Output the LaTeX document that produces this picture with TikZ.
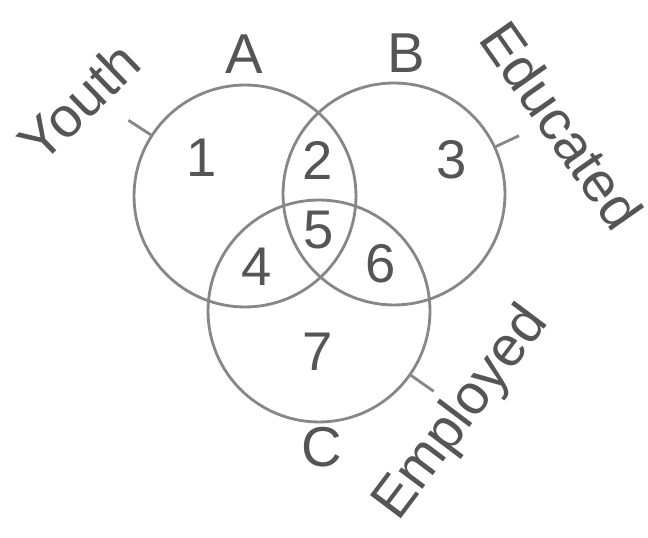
\documentclass[tikz,border=0pt]{standalone}
\usepackage{fontspec}
\setmainfont{Liberation Sans}
\usepackage{tikz}
\usetikzlibrary{calc}
\usepackage{xcolor}
\definecolor{linegray}{RGB}{135,135,135}
\definecolor{textgray}{RGB}{85,85,85}

\begin{document}
\begin{tikzpicture}[
    x=0.02cm, y=0.02cm,
    venn/.style={circle, draw=linegray, line width=1.6pt, minimum size=4.44cm, inner sep=0pt},
    ticklink/.style={draw=linegray, line width=1.6pt},
    setname/.style={font=\fontsize{32}{38}\selectfont, text=textgray, inner sep=0pt},
    region/.style={font=\fontsize{31}{37}\selectfont, text=textgray, inner sep=0pt}
]
\useasboundingbox (0,0) rectangle (648,537);
% circles
\node[venn] (A) at (245,341) {};
\node[venn] (B) at (394,343) {};
\node[venn] (C) at (319,226) {};
% set letters
\node[setname] (lA) at (244,483) {A};
\node[setname] (lB) at (406,484) {B};
\node[setname] (lC) at (322,90) {C};
% category names
\node[setname, rotate=44] (youth) at (79,435) {Youth};
\node[setname, rotate=-55] (educ) at (562,412) {Educated};
\node[setname, rotate=53] (empl) at (462,123) {Employed};
% tick ends
\coordinate (tA) at ($(A.center)+(147:139)$);
\coordinate (tB) at ($(B.center)+(25:138)$);
\coordinate (tC) at ($(C.center)+(-35:140)$);
\draw[ticklink] (A.147) -- (tA);
\draw[ticklink] (B.25) -- (tB);
\draw[ticklink] (C.-35) -- (tC);
% regions
\node[region] (r1) at (202,379) {1};
\node[region] (r2) at (318,377) {2};
\node[region] (r3) at (452,377) {3};
\node[region] (r4) at (257,270) {4};
\node[region] (r5) at (319,307) {5};
\node[region] (r6) at (381,273) {6};
\node[region] (r7) at (318,185) {7};
\end{tikzpicture}
\end{document}
